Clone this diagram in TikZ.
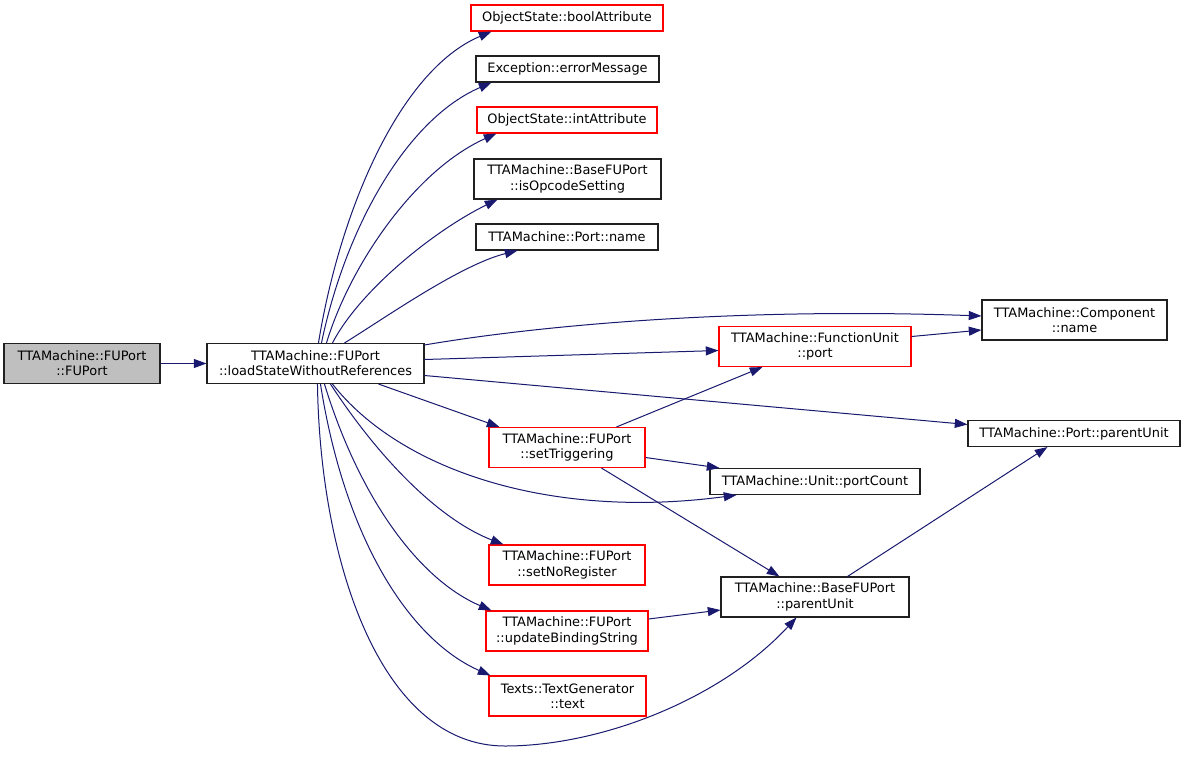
\documentclass[tikz,border=0pt]{standalone}
\usepackage{fontspec}
\setmainfont{DejaVu Sans}
\usetikzlibrary{arrows.meta,calc}
\definecolor{edgeblue}{HTML}{191970}
\definecolor{boxred}{HTML}{FF0000}
\definecolor{graybox}{HTML}{BFBFBF}
\definecolor{boxblack}{HTML}{202020}
\begin{document}
\begin{tikzpicture}[x=0.75pt,y=-0.75pt,
  box/.style={line width=0.8pt,rectangle,inner sep=0pt,align=center,
    font=\fontsize{9.7}{11.4}\selectfont,fill=white},
  blackbox/.style={draw=boxblack},
  redbox/.style={draw=boxred},
  hbox/.style={box,minimum height=30pt},
  sbox/.style={box,minimum height=19.5pt},
  conn/.style={draw=edgeblue,line width=0.75pt,-{Triangle[length=9.5pt,width=6.75pt]}}]
\useasboundingbox[fill=white] (0,0) rectangle (1187,764);
% nodes
\node[hbox,blackbox,fill=graybox,minimum width=117pt] (fup) at (82,363.5) {TTAMachine::FUPort\\::FUPort};
\node[hbox,blackbox,minimum width=162.75pt] (load) at (315.5,363.5) {TTAMachine::FUPort\\::loadStateWithoutReferences};
\node[sbox,redbox,minimum width=144pt] (bool) at (567,18) {ObjectState::boolAttribute};
\node[sbox,blackbox,minimum width=137.25pt] (err) at (567.5,69) {Exception::errorMessage};
\node[sbox,redbox,minimum width=135pt] (int) at (567,120) {ObjectState::intAttribute};
\node[hbox,blackbox,minimum width=140.25pt] (isop) at (567.5,179) {TTAMachine::BaseFUPort\\::isOpcodeSetting};
\node[sbox,blackbox,minimum width=136.5pt] (pname) at (567,237) {TTAMachine::Port::name};
\node[hbox,blackbox,minimum width=138.75pt] (comp) at (1074.5,320) {TTAMachine::Component\\::name};
\node[hbox,redbox,minimum width=144pt] (fuport) at (815,346.5) {TTAMachine::FunctionUnit\\::port};
\node[sbox,blackbox,minimum width=159pt] (pparent) at (1074,433.5) {TTAMachine::Port::parentUnit};
\node[hbox,redbox,minimum width=117pt] (settrig) at (567,447.5) {TTAMachine::FUPort\\::setTriggering};
\node[sbox,blackbox,minimum width=157.5pt] (pcount) at (815,481.5) {TTAMachine::Unit::portCount};
\node[hbox,redbox,minimum width=117pt] (setnoreg) at (567,565) {TTAMachine::FUPort\\::setNoRegister};
\node[hbox,blackbox,minimum width=141pt] (bparent) at (815,597) {TTAMachine::BaseFUPort\\::parentUnit};
\node[hbox,redbox,minimum width=121.5pt] (updbind) at (567,631) {TTAMachine::FUPort\\::updateBindingString};
\node[hbox,redbox,minimum width=117.75pt] (text) at (567.5,696) {Texts::TextGenerator\\::text};
\coordinate (bottom) at (505,746);
% edges
\draw[conn] (fup.east) -- (load.west);
\draw[conn] ($(load.north west)+(112,0)$) .. controls (340,210) and (400,70) .. ($(bool.south west)+(21,0)$);
\draw[conn] ($(load.north west)+(115,0)$) .. controls (345,230) and (405,120) .. ($(err.south west)+(16,0)$);
\draw[conn] ($(load.north west)+(120,0)$) .. controls (350,265) and (415,170) .. ($(int.south west)+(20,0)$);
\draw[conn] ($(load.north west)+(126,0)$) .. controls (360,290) and (435,230) .. ($(isop.south west)+(24,0)$);
\draw[conn] ($(load.north west)+(138,0)$) .. controls (385,318) and (460,265) .. ($(pname.south west)+(42,0)$);
\draw[conn] ($(load.north east)+(0,2)$) .. controls (560,322) and (760,308) .. ($(comp.west)+(0,-4)$);
\draw[conn] ($(load.east)+(0,-4)$) -- ($(fuport.west)+(0,4)$);
\draw[conn] ($(load.east)+(0,12)$) -- ($(pparent.west)+(0,-9)$);
\draw[conn] ($(load.south east)+(-46,0)$) -- ($(settrig.north west)+(11,0)$);
\draw[conn] ($(load.south west)+(126,0)$) .. controls (400,470) and (550,520) .. ($(pcount.south west)+(27,0)$);
\draw[conn] ($(load.south west)+(124,0)$) .. controls (380,460) and (440,520) .. ($(setnoreg.north west)+(15,0)$);
\draw[conn] ($(load.south west)+(118,0)$) .. controls (360,500) and (420,580) .. ($(updbind.north west)+(6,0)$);
\draw[conn] ($(load.south west)+(114,0)$) .. controls (345,540) and (410,640) .. ($(text.north west)+(2,0)$);
\draw[conn] ($(load.south west)+(111,0)$) .. controls (320,560) and (380,746) .. (bottom)
  .. controls (600,746) and (720,700) .. ($(bparent.south west)+(76,0)$);
\draw[conn] ($(fuport.east)+(0,-10)$) -- ($(comp.west)+(0,10)$);
\draw[conn] ($(settrig.north west)+(128,0)$) -- ($(fuport.south west)+(44,0)$);
\draw[conn] ($(settrig.east)+(0,10)$) -- ($(pcount.north west)+(10,0)$);
\draw[conn] ($(settrig.south west)+(113,0)$) -- ($(bparent.north west)+(59,0)$);
\draw[conn] ($(updbind.east)+(0,-12)$) -- ($(bparent.west)+(0,13)$);
\draw[conn] ($(bparent.north west)+(127,0)$) -- ($(pparent.south west)+(80,0)$);
\end{tikzpicture}
\end{document}
